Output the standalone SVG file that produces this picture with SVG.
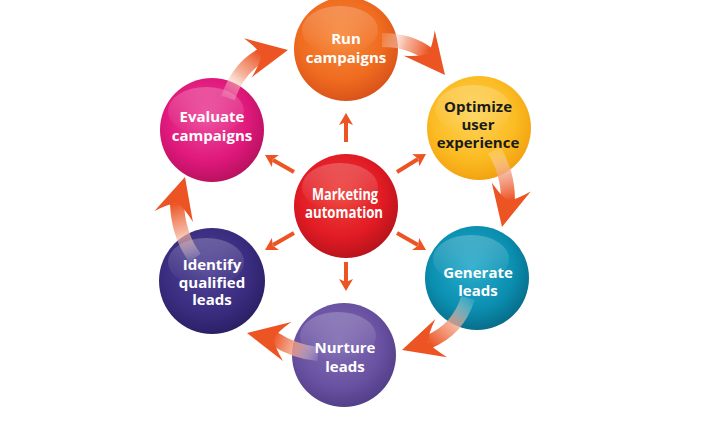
<svg xmlns="http://www.w3.org/2000/svg" width="701" height="432" viewBox="0 0 701 432">
<style>
.lbl{font-family:"Open Sans","Noto Sans",sans-serif;font-weight:700;font-size:15px;fill:#ffffff;text-anchor:middle}
.dark{fill:#1a1a1a}
.cond{font-size:16px}
.shaft{fill:none;stroke-width:14}
.head{fill:#ec5424}
.sa{stroke:#ec5424;stroke-width:4;fill:none}
.gloss{fill:url(#gloss)}
</style>
<defs>
<linearGradient id="gloss" x1="0" y1="0" x2="0" y2="1">
<stop offset="0" stop-color="#ffffff" stop-opacity="0.22"/>
<stop offset="1" stop-color="#ffffff" stop-opacity="0"/>
</linearGradient>
<radialGradient id="gRun" cx="45%" cy="40%" r="62%"><stop offset="0" stop-color="#f7893a"/><stop offset="0.65" stop-color="#ef6b1f"/><stop offset="1" stop-color="#d8521a"/></radialGradient>
<radialGradient id="gEval" cx="45%" cy="40%" r="62%"><stop offset="0" stop-color="#ec479a"/><stop offset="0.65" stop-color="#df187b"/><stop offset="1" stop-color="#b6115e"/></radialGradient>
<radialGradient id="gOpt" cx="45%" cy="40%" r="62%"><stop offset="0" stop-color="#fdd458"/><stop offset="0.65" stop-color="#fbbb22"/><stop offset="1" stop-color="#f2a010"/></radialGradient>
<radialGradient id="gCen" cx="45%" cy="40%" r="62%"><stop offset="0" stop-color="#ee413a"/><stop offset="0.65" stop-color="#e11b24"/><stop offset="1" stop-color="#b6131b"/></radialGradient>
<radialGradient id="gIdf" cx="45%" cy="40%" r="62%"><stop offset="0" stop-color="#504495"/><stop offset="0.65" stop-color="#3a2d80"/><stop offset="1" stop-color="#2a1f65"/></radialGradient>
<radialGradient id="gGen" cx="45%" cy="40%" r="62%"><stop offset="0" stop-color="#2aaccc"/><stop offset="0.65" stop-color="#0b8fb0"/><stop offset="1" stop-color="#076b88"/></radialGradient>
<radialGradient id="gNur" cx="45%" cy="40%" r="62%"><stop offset="0" stop-color="#806cb3"/><stop offset="0.65" stop-color="#6a52a2"/><stop offset="1" stop-color="#513d87"/></radialGradient>
<linearGradient id="s1" gradientUnits="userSpaceOnUse" x1="228" y1="98" x2="262" y2="55"><stop offset="0" stop-color="#ffffff" stop-opacity="0.15"/><stop offset="0.5" stop-color="#f3a184" stop-opacity="0.8"/><stop offset="1" stop-color="#ec5424"/></linearGradient>
<linearGradient id="s2" gradientUnits="userSpaceOnUse" x1="382" y1="40" x2="428" y2="54"><stop offset="0" stop-color="#ffffff" stop-opacity="0.15"/><stop offset="0.5" stop-color="#f3a184" stop-opacity="0.8"/><stop offset="1" stop-color="#ec5424"/></linearGradient>
<linearGradient id="s3" gradientUnits="userSpaceOnUse" x1="494" y1="150" x2="508" y2="201"><stop offset="0" stop-color="#ffffff" stop-opacity="0.15"/><stop offset="0.5" stop-color="#f3a184" stop-opacity="0.8"/><stop offset="1" stop-color="#ec5424"/></linearGradient>
<linearGradient id="s4" gradientUnits="userSpaceOnUse" x1="468" y1="298" x2="428" y2="342"><stop offset="0" stop-color="#ffffff" stop-opacity="0.15"/><stop offset="0.5" stop-color="#f3a184" stop-opacity="0.8"/><stop offset="1" stop-color="#ec5424"/></linearGradient>
<linearGradient id="s5" gradientUnits="userSpaceOnUse" x1="318" y1="354" x2="273" y2="338"><stop offset="0" stop-color="#ffffff" stop-opacity="0.15"/><stop offset="0.5" stop-color="#f3a184" stop-opacity="0.8"/><stop offset="1" stop-color="#ec5424"/></linearGradient>
<linearGradient id="s6" gradientUnits="userSpaceOnUse" x1="195" y1="258" x2="177" y2="203"><stop offset="0" stop-color="#ffffff" stop-opacity="0.15"/><stop offset="0.5" stop-color="#f3a184" stop-opacity="0.8"/><stop offset="1" stop-color="#ec5424"/></linearGradient>
<path id="bigHead" d="M0,0 L-41,-20 Q-30,-8 -27,0 Q-30,8 -41,20 Z"/>
<path id="smHead" d="M0,0 L-12,-7 L-9,0 L-12,7 Z"/>
</defs>

<g id="node-run">
<circle cx="346" cy="49" r="52" fill="url(#gRun)"/>
<ellipse class="gloss" cx="340" cy="30" rx="38" ry="24"/>
<text class="lbl" x="346" y="44">Run</text>
<text class="lbl" x="346" y="63">campaigns</text>
</g>
<g id="node-evaluate">
<circle cx="212" cy="130" r="52" fill="url(#gEval)"/>
<ellipse class="gloss" cx="206" cy="111" rx="38" ry="24"/>
<text class="lbl" x="212" y="122">Evaluate</text>
<text class="lbl" x="212" y="141">campaigns</text>
</g>
<g id="node-optimize">
<circle cx="479" cy="128" r="52" fill="url(#gOpt)"/>
<ellipse class="gloss" cx="473" cy="109" rx="38" ry="24"/>
<text class="lbl dark" x="478" y="112">Optimize</text>
<text class="lbl dark" x="478" y="130">user</text>
<text class="lbl dark" x="478" y="148">experience</text>
</g>
<g id="node-center">
<circle cx="346" cy="206" r="52" fill="url(#gCen)"/>
<ellipse class="gloss" cx="340" cy="187" rx="38" ry="24"/>
<text class="lbl cond" x="345" y="200" textLength="66" lengthAdjust="spacingAndGlyphs">Marketing</text>
<text class="lbl cond" x="344" y="218" textLength="78" lengthAdjust="spacingAndGlyphs">automation</text>
</g>
<g id="node-identify">
<circle cx="212" cy="281" r="53" fill="url(#gIdf)"/>
<ellipse class="gloss" cx="206" cy="262" rx="38" ry="24"/>
<text class="lbl" x="212" y="270">Identify</text>
<text class="lbl" x="212" y="288">qualified</text>
<text class="lbl" x="212" y="305">leads</text>
</g>
<g id="node-generate">
<circle cx="477" cy="278" r="52" fill="url(#gGen)"/>
<ellipse class="gloss" cx="471" cy="259" rx="38" ry="24"/>
<text class="lbl" x="478" y="278">Generate</text>
<text class="lbl" x="478" y="296">leads</text>
</g>
<g id="node-nurture">
<circle cx="344" cy="355" r="52" fill="url(#gNur)"/>
<ellipse class="gloss" cx="338" cy="336" rx="38" ry="24"/>
<text class="lbl" x="345" y="353">Nurture</text>
<text class="lbl" x="345" y="372">leads</text>
</g>

<g id="connectors">
<path class="shaft" stroke="url(#s1)" d="M228,98 Q238,68 262,55"/>
<use href="#bigHead" class="head" transform="translate(288,50) rotate(-11)"/>
<path class="shaft" stroke="url(#s2)" d="M382,40 Q410,40 428,54"/>
<use href="#bigHead" class="head" transform="translate(445,75) rotate(51)"/>
<path class="shaft" stroke="url(#s3)" d="M494,150 Q508,172 508,201"/>
<use href="#bigHead" class="head" transform="translate(502,227) rotate(103)"/>
<path class="shaft" stroke="url(#s4)" d="M468,298 Q458,330 428,342"/>
<use href="#bigHead" class="head" transform="translate(402,350) rotate(163)"/>
<path class="shaft" stroke="url(#s5)" d="M318,354 Q295,352 273,338"/>
<use href="#bigHead" class="head" transform="translate(247,333) rotate(192)"/>
<path class="shaft" stroke="url(#s6)" d="M195,258 Q178,235 177,203"/>
<use href="#bigHead" class="head" transform="translate(185,177) rotate(-74)"/>

<path class="sa" d="M346,142 L346,122"/>
<use href="#smHead" class="head" transform="translate(346,113) rotate(-90)"/>
<path class="sa" d="M346,262 L346,282"/>
<use href="#smHead" class="head" transform="translate(346,291) rotate(90)"/>
<path class="sa" d="M397,172 L418,159"/>
<use href="#smHead" class="head" transform="translate(426,154) rotate(-31)"/>
<path class="sa" d="M397,233 L418,245"/>
<use href="#smHead" class="head" transform="translate(426,250) rotate(30)"/>
<path class="sa" d="M294,172 L273,160"/>
<use href="#smHead" class="head" transform="translate(265,155) rotate(210)"/>
<path class="sa" d="M294,233 L273,245"/>
<use href="#smHead" class="head" transform="translate(265,250) rotate(150)"/>
</g>
</svg>
